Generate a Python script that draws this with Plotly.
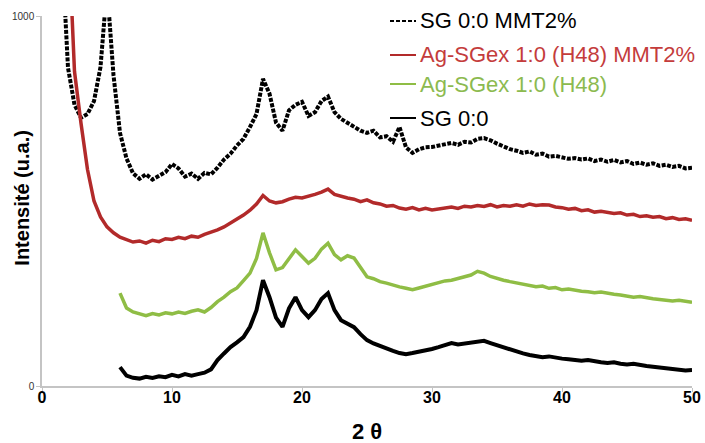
import numpy as np
import plotly.graph_objects as go

# ---- data ----
step = 0.5

sg_mmt_start = 1.5
sg_mmt = [1200, 860, 760, 725, 735, 770, 862, 1080, 840, 684,
          615, 575, 560, 572, 558, 568, 578, 600, 588, 566,
          574, 560, 576, 572, 590, 612, 628, 650, 668, 700,
          735, 830, 790, 712, 690, 745, 760, 768, 730, 740,
          770, 782, 740, 722, 712, 700, 690, 684, 690, 672,
          675, 660, 700, 645, 630, 640, 645, 646, 650, 655,
          657, 652, 660, 658, 668, 670, 664, 655, 648, 640,
          636, 630, 634, 625, 628, 620, 622, 618, 614, 616,
          612, 615, 608, 612, 606, 611, 604, 608, 600, 604,
          598, 602, 595, 598, 592, 595, 588, 590]

ag_mmt_start = 2.0
ag_mmt = [1250, 850, 710, 585, 500, 457, 430, 414, 402, 395,
          389, 392, 386, 394, 390, 398, 396, 402, 398, 405,
          402, 410, 415, 422, 430, 440, 450, 462, 475, 492,
          515, 500, 495, 498, 505, 510, 508, 512, 518, 524,
          532, 518, 512, 508, 505, 498, 503, 495, 492, 486,
          488, 481, 478, 482, 476, 480, 476, 478, 482, 484,
          480, 486, 484, 488, 485, 490, 484, 488, 486, 490,
          486, 492, 488, 490, 489, 484, 482, 478, 480, 474,
          476, 470, 472, 470, 466, 468, 462, 464, 458, 460,
          456, 458, 452, 455, 450, 452, 448]

ag_start = 6.0
ag = [251, 211, 200, 194, 190, 196, 192, 198, 195, 200,
      196, 202, 206, 200, 212, 228, 240, 255, 265, 285,
      305, 345, 414, 360, 314, 320, 345, 368, 350, 332,
      345, 370, 386, 355, 341, 352, 346, 320, 295, 290,
      282, 278, 272, 268, 264, 260, 265, 270, 276, 281,
      284, 286, 290, 294, 300, 310, 305, 296, 290, 286,
      282, 278, 276, 272, 268, 270, 264, 266, 260, 262,
      258, 256, 255, 252, 254, 250, 248, 246, 244, 240,
      242, 238, 236, 234, 232, 230, 232, 228, 226]

sg_start = 6.0
sg = [51, 28, 22, 20, 25, 22, 26, 24, 30, 26,
      32, 28, 32, 36, 45, 70, 88, 105, 118, 132,
      160, 205, 286, 240, 185, 160, 210, 240, 205, 186,
      205, 235, 251, 205, 178, 168, 159, 140, 124, 115,
      108, 100, 95, 89, 86, 89, 92, 96, 100, 105,
      110, 116, 112, 115, 118, 120, 122, 116, 110, 104,
      98, 92, 88, 84, 80, 78, 80, 76, 74, 72,
      70, 68, 70, 66, 64, 62, 64, 60, 58, 60,
      56, 54, 52, 50, 48, 46, 44, 42, 43]

names = ["SG 0:0 MMT2%", "Ag-SGex 1:0 (H48) MMT2%", "Ag-SGex 1:0 (H48)", "SG 0:0"]
x_ticks = [0, 10, 20, 30, 40, 50]
y_ticks = [0, 1000]

RED = "#b22a2a"
RED_TXT = "#c43c3c"
GREEN = "#8fbd45"
GREEN_TXT = "#8cba4f"

line_colors = ["black", RED, GREEN, "black"]
text_colors = ["black", RED_TXT, GREEN_TXT, "black"]
line_dashes = ["4px,2px", "solid", "solid", "solid"]


def angles(start, n):
    return start + step * np.arange(n)


fig = go.Figure()
fig.add_trace(go.Scatter(x=angles(sg_mmt_start, len(sg_mmt)), y=sg_mmt, mode="lines",
                         name=names[0], line=dict(color=line_colors[0], width=4, dash="4px,1.5px")))
fig.add_trace(go.Scatter(x=angles(ag_mmt_start, len(ag_mmt)), y=ag_mmt, mode="lines",
                         name=names[1], line=dict(color=line_colors[1], width=3.5)))
fig.add_trace(go.Scatter(x=angles(ag_start, len(ag)), y=ag, mode="lines",
                         name=names[2], line=dict(color=line_colors[2], width=3.5)))
fig.add_trace(go.Scatter(x=angles(sg_start, len(sg)), y=sg, mode="lines",
                         name=names[3], line=dict(color=line_colors[3], width=4)))

# legend drawn as text + sample lines (keeps plot margins fixed)
leg_rows_y = [0.9865, 0.8946, 0.8162, 0.7243]
leg_x0, leg_x1, leg_tx = 0.5354, 0.5754, 0.5785
shapes = []
annotations = []
for i, nm in enumerate(names):
    shapes.append(dict(type="line", xref="paper", yref="paper",
                       x0=leg_x0, x1=leg_x1, y0=leg_rows_y[i], y1=leg_rows_y[i],
                       line=dict(color=line_colors[i], width=2, dash=line_dashes[i])))
    annotations.append(dict(text=nm, xref="paper", yref="paper", x=leg_tx, y=leg_rows_y[i],
                            xanchor="left", yanchor="middle", showarrow=False,
                            font=dict(size=22, color=text_colors[i])))

annotations += [
    dict(text="<b>2 θ</b>", xref="paper", yref="paper", x=0.5, y=(386 - 431) / 370,
         xanchor="center", yanchor="middle", showarrow=False,
         font=dict(size=22, color="black")),
    dict(text="<b>Intensité (u.a.)</b>", xref="paper", yref="paper",
         x=(22 - 42) / 650, y=0.509, xanchor="center", yanchor="middle",
         textangle=-90, showarrow=False, font=dict(size=20, color="black")),
]

fig.update_layout(
    width=705, height=443,
    margin=dict(l=42, r=13, t=16, b=57),
    paper_bgcolor="white", plot_bgcolor="white",
    font=dict(family="Liberation Sans, Arial, sans-serif", color="black"),
    showlegend=False,
    xaxis=dict(range=[0, 50], tickvals=x_ticks, ticktext=[str(v) for v in x_ticks],
               showgrid=False, zeroline=False, showline=True, linecolor="#c4c4c4",
               linewidth=1.5, ticks="outside", ticklen=4, tickcolor="#c4c4c4",
               ticklabelstandoff=-8, automargin=False,
               tickfont=dict(size=16, color="black", family="Liberation Sans, Arial", weight="bold")),
    yaxis=dict(range=[0, 1000], tickvals=y_ticks, ticktext=[str(v) for v in y_ticks],
               showgrid=False, zeroline=False, showline=True, linecolor="#c4c4c4",
               linewidth=1.5, ticks="outside", ticklen=4, tickcolor="#c4c4c4",
               automargin=False,
               tickfont=dict(size=10, color="#333333")),
    shapes=shapes,
    annotations=annotations,
)

fig.write_html("out.html", config={"displayModeBar": False},
               post_script="document.body.style.margin='0';")
